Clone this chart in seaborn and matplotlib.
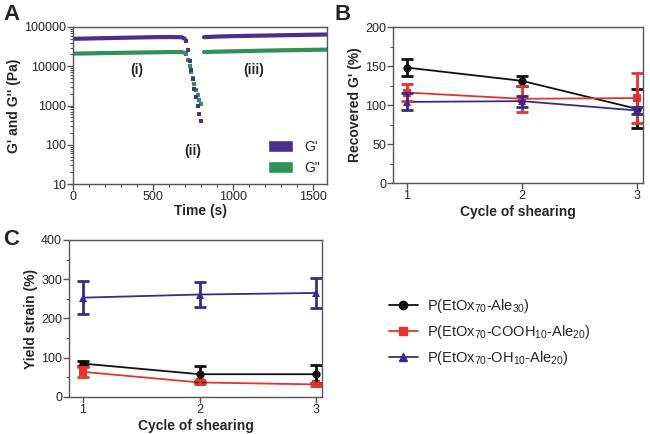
import numpy as np
import pandas as pd
import matplotlib
matplotlib.use("Agg")
import matplotlib.pyplot as plt
import seaborn as sns
from matplotlib.patches import Patch
from matplotlib.ticker import MultipleLocator, LogLocator, NullFormatter

sns.set_theme(style="ticks")
plt.rcParams['font.family'] = ['Liberation Sans', 'DejaVu Sans']
plt.rcParams['mathtext.fontset'] = 'custom'
plt.rcParams['mathtext.rm'] = 'Liberation Sans'
plt.rcParams['mathtext.it'] = 'Liberation Sans'

# ---------- Panel A data ----------
t_before = [0, 100, 200, 300, 400, 500, 600, 680, 700]
gp_before = [50000, 51000, 52000, 53000, 54000, 55000, 55500, 55000, 50000]
gpp_before = [21000, 21300, 21700, 22000, 22300, 22600, 23000, 23000, 22000]

t_drop = [710, 720, 730, 740, 750, 760, 770, 780, 790, 800]
gp_drop = [45000, 26000, 14000, 8000, 4600, 2700, 1600, 950, 600, 400]
gpp_drop = [20000, 14500, 10000, 7000, 5000, 3500, 2500, 1800, 1400, 1100]

t_after = [820, 900, 1000, 1100, 1200, 1300, 1400, 1500, 1600]
gp_after = [55000, 57000, 58500, 59500, 60500, 61500, 62500, 63500, 64500]
gpp_after = [23000, 23500, 24000, 24500, 25000, 25400, 25800, 26200, 26500]

# ---------- Panels B and C data ----------
cycles = [1, 2, 3]
series = ["P(EtOx$_{70}$-Ale$_{30}$)",
          "P(EtOx$_{70}$-COOH$_{10}$-Ale$_{20}$)",
          "P(EtOx$_{70}$-OH$_{10}$-Ale$_{20}$)"]
recovered = [[148, 131, 95], [116, 108, 109], [104, 105, 93]]
recovered_err = [[11, 6, 25], [11, 17, 32], [11, 7, 5]]
yield_strain = [[85, 58, 58], [64, 37, 32], [253, 261, 265]]
yield_err = [[7, 21, 23], [13, 5, 4], [42, 32, 38]]

colors = ["#111111", "#e8322d", "#3a2a8c"]
markers = ["o", "s", "^"]
purple = "#4a2f8f"
green = "#2e9157"

fig = plt.figure(figsize=(6.5, 4.34), dpi=100)
axA = fig.add_axes([0.1123, 0.576, 0.3908, 0.3618])
axB = fig.add_axes([0.6046, 0.5783, 0.3846, 0.3594])
axC = fig.add_axes([0.1062, 0.0853, 0.3892, 0.3618])

# ----- Panel A -----
for t, gp, gpp in [(t_before, gp_before, gpp_before), (t_after, gp_after, gpp_after)]:
    sns.lineplot(x=t, y=gpp, ax=axA, color=green, lw=3, legend=False)
    sns.lineplot(x=t, y=gp, ax=axA, color=purple, lw=3, legend=False)
sns.scatterplot(x=t_drop, y=gpp_drop, ax=axA, color=green, marker="s", s=12, linewidth=0, legend=False)
sns.scatterplot(x=t_drop, y=gp_drop, ax=axA, color=purple, marker="s", s=12, linewidth=0, legend=False)
axA.set_yscale("log")
axA.set_ylim(10, 100000)
axA.set_xlim(0, 1590)
axA.set_yticks([10, 100, 1000, 10000, 100000])
axA.set_yticklabels(["10", "100", "1000", "10000", "100000"])
axA.yaxis.set_minor_locator(LogLocator(base=10, subs=np.arange(2, 10)))
axA.yaxis.set_minor_formatter(NullFormatter())
axA.set_xticks([0, 500, 1000, 1500])
axA.xaxis.set_minor_locator(MultipleLocator(100))
axA.set_xlabel("Time (s)", fontweight="bold", fontsize=10, labelpad=1)
axA.set_ylabel("G' and G'' (Pa)", fontweight="bold", fontsize=10, labelpad=2)
axA.text(400, 6500, "(i)", fontweight="bold", fontsize=10, ha="center")
axA.text(750, 55, "(ii)", fontweight="bold", fontsize=10, ha="center")
axA.text(1130, 6500, "(iii)", fontweight="bold", fontsize=10, ha="center")
axA.legend(handles=[Patch(facecolor=purple, label="G'"), Patch(facecolor=green, label='G"')],
           loc="lower right", frameon=False, fontsize=10, handlelength=1.8, handleheight=0.9,
           bbox_to_anchor=(1.02, -0.02), labelspacing=0.5)

# ----- Panels B, C -----
def panel(ax, vals, errs, ylim, major, minor, ylabel):
    rows = []
    for name, v in zip(series, vals):
        for c, y in zip(cycles, v):
            rows.append({"cycle": c, "value": y, "series": name})
    df = pd.DataFrame(rows)
    sns.lineplot(data=df, x="cycle", y="value", hue="series", style="series",
                 palette=colors, markers=markers, dashes=False, ax=ax, lw=1.3,
                 markersize=6, markeredgewidth=0, legend=False)
    for v, e, col in zip(vals, errs, colors):
        ax.errorbar(cycles, v, yerr=e, fmt="none", ecolor=col, elinewidth=2,
                    capsize=4, capthick=2)
    ax.set_ylim(*ylim)
    ax.set_xlim(0.88, 3.05)
    ax.set_xticks(cycles)
    ax.yaxis.set_major_locator(MultipleLocator(major))
    ax.yaxis.set_minor_locator(MultipleLocator(minor))
    ax.set_xlabel("Cycle of shearing", fontweight="bold", fontsize=10, labelpad=2)
    ax.set_ylabel(ylabel, fontweight="bold", fontsize=10, labelpad=2)

panel(axB, recovered, recovered_err, (0, 200), 50, 25, "Recovered G' (%)")
panel(axC, yield_strain, yield_err, (0, 400), 100, 50, "Yield strain (%)")

for ax in [axA, axB, axC]:
    for s in ax.spines.values():
        s.set_color("#555555")
        s.set_linewidth(1)
    ax.tick_params(which="major", length=4, width=1, color="#555555", labelsize=9, pad=1)
    ax.tick_params(which="minor", length=2, width=0.8, color="#555555")

handles = [plt.Line2D([], [], color=c, marker=m, lw=1.3, markersize=6) for c, m in zip(colors, markers)]
fig.legend(handles=handles, labels=series, loc="upper left", bbox_to_anchor=(0.578, 0.345),
           frameon=False, fontsize=10.5, handlelength=2.0, labelspacing=0.55, handletextpad=0.6)

fig.text(0.005, 0.955, "A", fontsize=16, fontweight="bold")
fig.text(0.515, 0.955, "B", fontsize=16, fontweight="bold")
fig.text(0.005, 0.435, "C", fontsize=16, fontweight="bold")

fig.savefig("out.png", dpi=100)
